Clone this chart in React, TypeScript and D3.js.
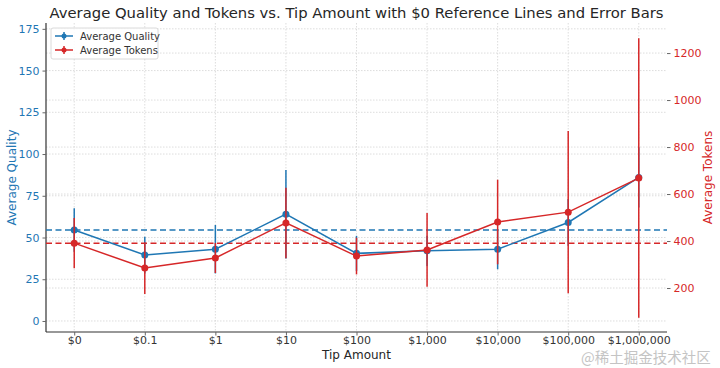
import React, { useEffect, useRef } from "react";
import * as d3 from "d3";

const tips = ["$0", "$0.1", "$1", "$10", "$100", "$1,000", "$10,000", "$100,000", "$1,000,000"];
const quality = [54.5, 39.5, 43, 64, 40.5, 42, 43, 59, 86];
const qualityErr = [13, 11, 14.5, 26.5, 10.5, 9, 12, 14, 18];
const tokens = [391, 285, 328, 477, 336, 362, 481, 523, 668];
const tokensErr = [107, 110, 64, 150, 78, 157, 180, 345, 595];
const qualityTicks = [0, 25, 50, 75, 100, 125, 150, 175];
const tokenTicks = [200, 400, 600, 800, 1000, 1200];

const BLUE = "#1f77b4";
const RED = "#d62728";
const FONT = "DejaVu Sans, sans-serif";

const App = () => {
  const ref = useRef<SVGSVGElement>(null);

  useEffect(() => {
    const width = 720;
    const height = 368;
    const left = 46, right = 667, top = 23, bottom = 332;

    const svg = d3.select(ref.current);
    svg.selectAll("*").remove();
    svg.attr("width", width).attr("height", height);

    const x = d3.scalePoint<string>().domain(tips).range([left, right]).padding(0.4);
    const yL = d3.scaleLinear().domain([-6.6, 178.5]).range([bottom, top]);
    const yR = d3.scaleLinear().domain([12.8, 1328]).range([bottom, top]);

    // grid
    const grid = svg.append("g")
      .attr("stroke", "#d4d4d4")
      .attr("stroke-width", 0.8)
      .attr("stroke-dasharray", "1.5,1.5");
    tips.forEach((t) => {
      grid.append("line").attr("x1", x(t)!).attr("x2", x(t)!).attr("y1", top).attr("y2", bottom);
    });
    qualityTicks.forEach((v) => {
      grid.append("line").attr("x1", left).attr("x2", right).attr("y1", yL(v)).attr("y2", yL(v));
    });
    tokenTicks.forEach((v) => {
      grid.append("line").attr("x1", left).attr("x2", right).attr("y1", yR(v)).attr("y2", yR(v));
    });

    // axes
    const xAxis = svg.append("g")
      .attr("transform", `translate(0,${bottom})`)
      .call(d3.axisBottom(x).tickSize(3.5).tickPadding(1));
    xAxis.select(".domain").attr("stroke", "#333").attr("stroke-width", 1.2)
      .attr("d", `M${left},0H${right}`);
    xAxis.selectAll("text").attr("font-family", FONT).attr("font-size", 11).attr("fill", "#333");
    xAxis.selectAll(".tick line").attr("stroke", "#666");

    const lAxis = svg.append("g")
      .attr("transform", `translate(${left},0)`)
      .call(d3.axisLeft(yL).tickValues(qualityTicks).tickSize(3.5).tickPadding(3));
    lAxis.select(".domain").attr("stroke", "#333").attr("stroke-width", 1.2)
      .attr("d", `M0,${top}V${bottom}`);
    lAxis.selectAll("text").attr("font-family", FONT).attr("font-size", 11).attr("fill", BLUE);
    lAxis.selectAll(".tick line").attr("stroke", "#666");

    const rAxis = svg.append("g")
      .attr("transform", `translate(${right},0)`)
      .call(d3.axisRight(yR).tickValues(tokenTicks).tickFormat(d3.format("d")).tickSize(3.5).tickPadding(3));
    rAxis.select(".domain").remove();
    rAxis.selectAll("text").attr("font-family", FONT).attr("font-size", 11).attr("fill", RED);
    rAxis.selectAll(".tick line").attr("stroke", "#666");

    // reference lines
    svg.append("line")
      .attr("x1", left).attr("x2", right)
      .attr("y1", yL(quality[0])).attr("y2", yL(quality[0]))
      .attr("stroke", BLUE).attr("stroke-width", 1.5).attr("stroke-dasharray", "6,3.5");
    svg.append("line")
      .attr("x1", left).attr("x2", right)
      .attr("y1", yR(tokens[0])).attr("y2", yR(tokens[0]))
      .attr("stroke", RED).attr("stroke-width", 1.5).attr("stroke-dasharray", "6,3.5");

    const drawSeries = (vals: number[], errs: number[], y: d3.ScaleLinear<number, number>, color: string) => {
      const g = svg.append("g");
      g.selectAll("line.err")
        .data(vals)
        .enter()
        .append("line")
        .attr("x1", (d, i) => x(tips[i])!)
        .attr("x2", (d, i) => x(tips[i])!)
        .attr("y1", (d, i) => y(d - errs[i]))
        .attr("y2", (d, i) => y(d + errs[i]))
        .attr("stroke", color)
        .attr("stroke-width", 1.5);
      const line = d3.line<number>().x((d, i) => x(tips[i])!).y((d) => y(d));
      g.append("path")
        .attr("d", line(vals))
        .attr("fill", "none")
        .attr("stroke", color)
        .attr("stroke-width", 1.5);
      g.selectAll("circle")
        .data(vals)
        .enter()
        .append("circle")
        .attr("cx", (d, i) => x(tips[i])!)
        .attr("cy", (d) => y(d))
        .attr("r", 3.5)
        .attr("fill", color);
    };

    drawSeries(quality, qualityErr, yL, BLUE);
    drawSeries(tokens, tokensErr, yR, RED);

    // title and labels
    svg.append("text")
      .attr("x", (left + right) / 2).attr("y", 18)
      .attr("text-anchor", "middle")
      .attr("font-family", FONT).attr("font-size", 14.8).attr("fill", "#262626")
      .text("Average Quality and Tokens vs. Tip Amount with $0 Reference Lines and Error Bars");
    svg.append("text")
      .attr("x", (left + right) / 2).attr("y", 359)
      .attr("text-anchor", "middle")
      .attr("font-family", FONT).attr("font-size", 12).attr("fill", "#262626")
      .text("Tip Amount");
    svg.append("text")
      .attr("transform", `translate(16,${(top + bottom) / 2}) rotate(-90)`)
      .attr("text-anchor", "middle")
      .attr("font-family", FONT).attr("font-size", 12).attr("fill", BLUE)
      .text("Average Quality");
    svg.append("text")
      .attr("transform", `translate(712,${(top + bottom) / 2}) rotate(-90)`)
      .attr("text-anchor", "middle")
      .attr("font-family", FONT).attr("font-size", 12).attr("fill", RED)
      .text("Average Tokens");

    // legend
    const lg = svg.append("g").attr("transform", "translate(51,28)");
    lg.append("rect")
      .attr("width", 107).attr("height", 31).attr("rx", 2)
      .attr("fill", "white").attr("fill-opacity", 0.85)
      .attr("stroke", "#d0d0d0").attr("stroke-width", 0.8);
    [["Average Quality", BLUE], ["Average Tokens", RED]].forEach(([label, color], i) => {
      const yy = 8 + i * 14;
      lg.append("line").attr("x1", 4).attr("x2", 22).attr("y1", yy).attr("y2", yy)
        .attr("stroke", color).attr("stroke-width", 1.5);
      lg.append("line").attr("x1", 13).attr("x2", 13).attr("y1", yy - 4).attr("y2", yy + 4)
        .attr("stroke", color).attr("stroke-width", 1.5);
      lg.append("circle").attr("cx", 13).attr("cy", yy).attr("r", 2.5).attr("fill", color);
      lg.append("text").attr("x", 29).attr("y", yy + 3.5)
        .attr("font-family", FONT).attr("font-size", 10).attr("fill", "#333")
        .text(label);
    });

    // watermark
    svg.append("text")
      .attr("x", 581).attr("y", 363)
      .attr("font-family", "Noto Sans CJK SC, sans-serif").attr("font-size", 14.5)
      .attr("fill", "#c4c4c4")
      .text("@稀土掘金技术社区");
  }, []);

  return <svg ref={ref} style={{ position: "absolute", left: 0, top: 0 }}></svg>;
};

export default App;
